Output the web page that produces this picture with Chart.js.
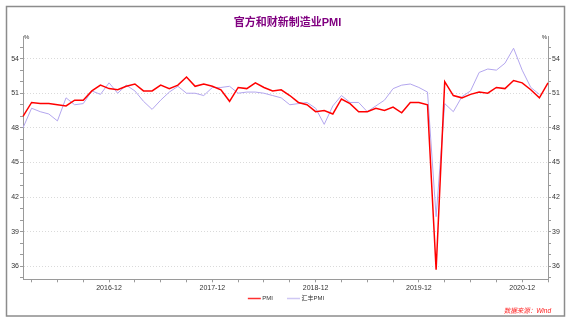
<!DOCTYPE html>
<html>
<head>
<meta charset="utf-8">
<script src="https://cdn.jsdelivr.net/npm/chart.js@4/dist/chart.umd.min.js"></script>
<style>
  html, body { margin: 0; padding: 0; background: #fff; }
  #wrap { position: relative; width: 575px; height: 322px; }
</style>
</head>
<body>
<div id="wrap"><canvas id="pmi-chart"></canvas></div>
<script>
// monthly series, 2016-02 .. 2021-03
const startYear = 2016, startMonth = 2;
const monthCount = 62;

// official manufacturing PMI
const pmi = [
  49.0, 50.2, 50.1, 50.1, 50.0, 49.9, 50.4, 50.4, 51.2, 51.7, 51.4,
  51.3, 51.6, 51.8, 51.2, 51.2, 51.7, 51.4, 51.7, 52.4, 51.6, 51.8, 51.6,
  51.3, 50.3, 51.5, 51.4, 51.9, 51.5, 51.2, 51.3, 50.8, 50.2, 50.0, 49.4,
  49.5, 49.2, 50.5, 50.1, 49.4, 49.4, 49.7, 49.5, 49.8, 49.3, 50.2, 50.2,
  50.0, 35.7, 52.0, 50.8, 50.6, 50.9, 51.1, 51.0, 51.5, 51.4, 52.1, 51.9,
  51.3, 50.6, 51.9
];

// Caixin / HSBC manufacturing PMI (no March 2021 print yet)
const hsbcPmi = [
  48.0, 49.7, 49.4, 49.2, 48.6, 50.6, 50.0, 50.1, 51.2, 50.9, 51.9,
  51.0, 51.7, 51.2, 50.3, 49.6, 50.4, 51.1, 51.6, 51.0, 51.0, 50.8, 51.5,
  51.5, 51.6, 51.0, 51.1, 51.1, 51.0, 50.8, 50.6, 50.0, 50.1, 50.2, 49.7,
  48.3, 49.9, 50.8, 50.2, 50.2, 49.4, 49.9, 50.4, 51.4, 51.7, 51.8, 51.5,
  51.1, 40.3, 50.1, 49.4, 50.7, 51.2, 52.8, 53.1, 53.0, 53.6, 54.9, 53.0,
  51.5, 50.9, null
];

const yMin = 34.87, yMax = 55.9;
const yLabelStep = 3;

const months = [];
for (let i = 0; i < monthCount; i++) {
  const m = startMonth - 1 + i;
  const y = startYear + Math.floor(m / 12);
  const mm = (m % 12) + 1;
  months.push(y + '-' + (mm < 10 ? '0' + mm : mm));
}
const monthOf = (label) => parseInt(label.slice(5), 10);

const FONT = '"Liberation Sans", "Noto Sans CJK SC", Arial, sans-serif';
const AXIS = '#9a9a9a';

// integer ticks inside the range, labels only every 3 points
const intTicks = (axis) => {
  const ticks = [];
  for (let v = Math.ceil(yMin); v <= Math.floor(yMax); v++) ticks.push({ value: v });
  axis.ticks = ticks;
};

const yAxisBase = (position, width) => ({
  type: 'linear',
  position,
  min: yMin,
  max: yMax,
  afterBuildTicks: intTicks,
  afterFit: (scale) => { scale.width = width; },
  border: { display: true, color: AXIS, width: 1, dash: [1, 2] },
  grid: {
    drawOnChartArea: position === 'left',
    color: (ctx) => (ctx.tick && ctx.tick.value % yLabelStep === 0) ? '#dadada' : 'rgba(0,0,0,0)',
    tickColor: AXIS,
    tickLength: 3,
    lineWidth: 1
  },
  ticks: {
    padding: 1,
    color: '#333',
    font: { family: FONT, size: 7 },
    callback: (v) => (v % yLabelStep === 0 ? String(v) : '')
  }
});

// frame, "%" units, legend row and source note
const decorations = {
  id: 'decorations',
  afterDraw(chart) {
    const { ctx, chartArea } = chart;
    ctx.save();
    ctx.strokeStyle = '#8c8c8c';
    ctx.lineWidth = 1.5;
    ctx.strokeRect(6.5, 6.5, 558, 309.5);

    ctx.fillStyle = '#333';
    ctx.font = '6px ' + FONT;
    ctx.textBaseline = 'middle';
    ctx.textAlign = 'left';
    ctx.fillText('%', chartArea.left + 1, chartArea.top + 1);
    ctx.textAlign = 'right';
    ctx.fillText('%', chartArea.right - 1, chartArea.top + 1);

    // legend: short line sample + label, centred under the plot
    const lineLen = 13, textGap = 1.5, itemGap = 14, legendY = 298.5;
    ctx.font = '6px ' + FONT;
    const items = chart.data.datasets.map(ds => ({
      text: ds.label, color: ds.backgroundColor, w: ctx.measureText(ds.label).width
    }));
    const total = items.reduce((s, it) => s + lineLen + textGap + it.w, 0) + itemGap * (items.length - 1);
    let x = 286 - total / 2;
    ctx.textAlign = 'left';
    items.forEach(it => {
      ctx.fillStyle = it.color;
      ctx.fillRect(x, legendY - 0.75, lineLen, 1.5);
      x += lineLen + textGap;
      ctx.fillStyle = '#333';
      ctx.fillText(it.text, x, legendY);
      x += it.w + itemGap;
    });

    ctx.fillStyle = '#ff2020';
    ctx.font = 'italic 6.5px ' + FONT;
    ctx.textAlign = 'right';
    ctx.fillText('数据来源：Wind', 551, 311);
    ctx.restore();
  }
};

new Chart(document.getElementById('pmi-chart'), {
  type: 'line',
  data: {
    labels: months,
    datasets: [
      { label: 'PMI', data: pmi, borderColor: '#ff0000', backgroundColor: '#ff3030', borderWidth: 1.5, pointRadius: 0, tension: 0 },
      { label: '汇丰PMI', data: hsbcPmi, borderColor: '#b3a6ee', backgroundColor: '#cfc8f4', borderWidth: 1, pointRadius: 0, tension: 0 }
    ]
  },
  options: {
    responsive: true,
    maintainAspectRatio: false,
    animation: false,
    layout: { padding: { left: 0, right: 0, top: 0, bottom: 29 } },
    plugins: {
      title: {
        display: true,
        text: '官方和财新制造业PMI',
        color: '#800080',
        font: { family: FONT, size: 11, weight: 'bold' },
        padding: { top: 16, bottom: 7.5 }
      },
      legend: { display: false },
      tooltip: { enabled: false }
    },
    scales: {
      x: {
        type: 'category',
        offset: false,
        afterFit: (scale) => { scale.height = 13.7; },
        border: { display: true, color: AXIS, width: 1 },
        grid: {
          drawOnChartArea: false,
          tickLength: 3,
          tickColor: (ctx) => (ctx.tick && monthOf(months[ctx.index]) % 3 === 0) ? AXIS : 'rgba(0,0,0,0)'
        },
        ticks: {
          autoSkip: false,
          maxRotation: 0,
          padding: 2,
          color: '#333',
          font: { family: FONT, size: 7 },
          callback: (v, i) => (monthOf(months[i]) === 12 ? months[i] : '')
        }
      },
      y: yAxisBase('left', 23),
      y2: yAxisBase('right', 27)
    }
  },
  plugins: [decorations]
});
</script>
</body>
</html>
